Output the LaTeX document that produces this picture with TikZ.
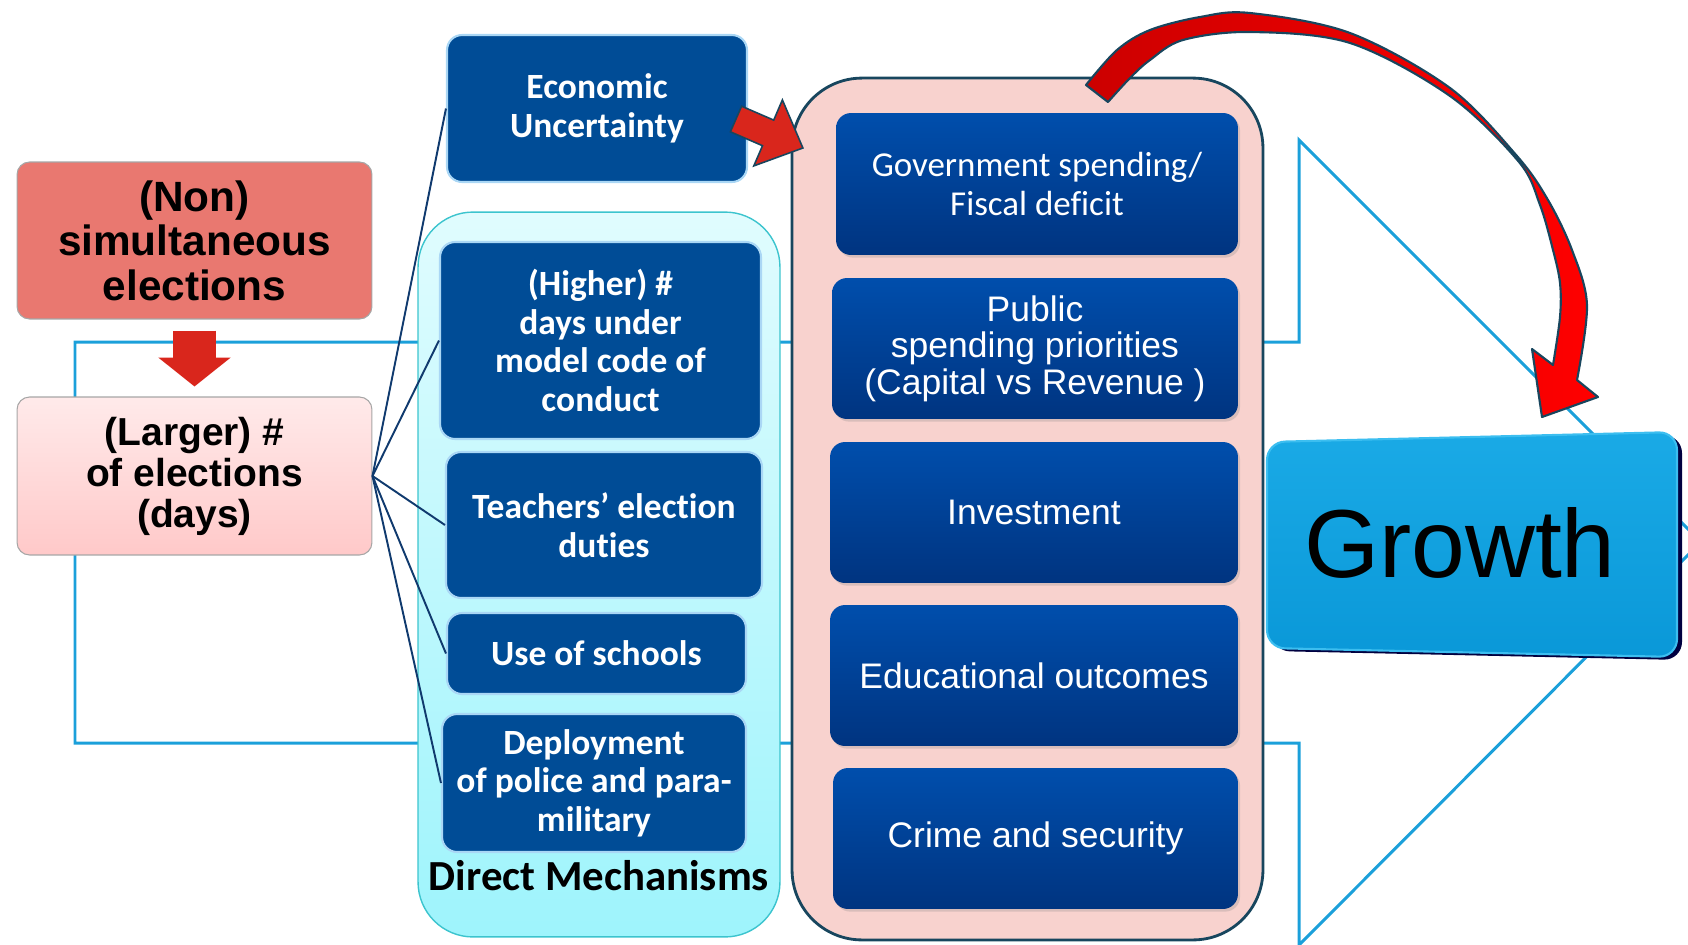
\documentclass[tikz,border=0pt]{standalone}
\usepackage{fontspec}
\setmainfont{Liberation Sans}
\newfontfamily\calibri[Ligatures=NoCommon]{Carlito}
\usetikzlibrary{arrows.meta,shadows}

\definecolor{nonred}{RGB}{233,120,112}
\definecolor{largetop}{RGB}{255,234,234}
\definecolor{largebot}{RGB}{255,201,201}
\definecolor{blockred}{RGB}{217,38,28}
\definecolor{mechblue}{RGB}{0,76,150}
\definecolor{mechedge}{RGB}{170,215,245}
\definecolor{cyantop}{RGB}{224,252,254}
\definecolor{cyanbot}{RGB}{158,244,252}
\definecolor{cyanedge}{RGB}{60,196,206}
\definecolor{chanpink}{RGB}{248,210,206}
\definecolor{darkedge}{RGB}{24,70,94}
\definecolor{chantop}{RGB}{0,78,172}
\definecolor{chanbot}{RGB}{0,52,128}
\definecolor{growthtop}{RGB}{26,170,230}
\definecolor{growthbot}{RGB}{10,152,216}
\definecolor{growthedge}{RGB}{60,190,240}
\definecolor{outlineblue}{RGB}{27,160,218}
\definecolor{linkblue}{RGB}{16,58,110}

\begin{document}
\begin{tikzpicture}[x=0.02cm, y=-0.02cm,
    every node/.style={inner sep=0pt, align=center},
    elect/.style={rectangle, rounded corners=0.25cm, draw=black!35, line width=0.6pt, minimum width=7.1cm},
    mech/.style={rectangle, rounded corners=0.3cm, fill=mechblue, draw=mechedge, line width=1.2pt,
        text=white, font=\calibri\bfseries\fontsize{20.2}{21.9}\selectfont},
    chan/.style={rectangle, rounded corners=0.3cm, top color=chantop, bottom color=chanbot,
        text=white, font=\fontsize{20.2}{20.8}\selectfont,
        drop shadow={opacity=0.25, shadow xshift=1.2pt, shadow yshift=-1.5pt}},
    link/.style={draw=linkblue, line width=1.1pt}]
    \useasboundingbox (0,0) rectangle (1688,944);
    \clip (0,0) rectangle (1688,944);

    % Big arrow behind everything
    \draw[outlineblue, line width=1.7pt] (75,342) -- (1299,342) -- (1299,140) -- (1701,542)
        -- (1299,945) -- (1299,743) -- (75,743) -- cycle;

    % Containers
    \node[rectangle, rounded corners=1.1cm, top color=cyantop, bottom color=cyanbot, draw=cyanedge,
        line width=0.8pt, minimum width=7.24cm, minimum height=14.5cm] (direct) at (599,574.5) {};
    \node[rectangle, rounded corners=1.4cm, fill=chanpink, draw=darkedge, line width=1.6pt,
        minimum width=9.42cm, minimum height=17.24cm] (channels) at (1027.5,509) {};
    \node[font=\calibri\bfseries\fontsize{24.4}{25}\selectfont, anchor=base] (dlabel) at (599,890) {Direct Mechanisms};

    % Elections
    \node[elect, fill=nonred, minimum height=3.14cm, font=\bfseries\fontsize{24.1}{25.3}\selectfont]
        (nonsim) at (194.5,240.5) {(Non)\\simultaneous\\elections};
    \node[elect, top color=largetop, bottom color=largebot, minimum height=3.16cm,
        font=\bfseries\fontsize{22.2}{23.3}\selectfont] (larger) at (194.5,476) {(Larger) \#\\of elections\\(days)};
    \draw[blockred, line width=0.86cm, -{Triangle[width=1.42cm, length=0.58cm]},
        shorten <=0.22cm, shorten >=0.2cm] (nonsim.south) -- (larger.north);

    % Mechanisms
    \node[mech, minimum width=6cm, minimum height=2.94cm] (econ) at (597,108.5) {Economic\\Uncertainty};
    \node[mech, minimum width=6.42cm, minimum height=3.94cm] (higher) at (600.5,340.5)
        {(Higher) \#\\days under\\model code of\\conduct};
    \node[mech, minimum width=6.32cm, minimum height=2.92cm] (teachers) at (604,525) {Teachers’ election\\duties};
    \node[mech, minimum width=5.98cm, minimum height=1.62cm] (schools) at (596.5,653.5) {Use of schools};
    \node[mech, minimum width=6.08cm, minimum height=2.76cm] (police) at (594,783)
        {Deployment\\of police and para-\\military};

    % Links
    \draw[link] (larger.east) -- (econ.west);
    \draw[link] (larger.east) -- (higher.west);
    \draw[link] (larger.east) -- (teachers.west);
    \draw[link] (larger.east) -- (schools.west);
    \draw[link] (larger.east) -- (police.west);

    % Channels
    \node[chan, minimum width=8.04cm, minimum height=2.84cm, font=\calibri\fontsize{19.9}{21.9}\selectfont]
        (gov) at (1037,184) {Government spending/\\Fiscal deficit};
    \node[chan, minimum width=8.12cm, minimum height=2.82cm] (public) at (1035,348.5)
        {Public\\spending priorities\\(Capital vs Revenue )};
    \node[chan, minimum width=8.16cm, minimum height=2.82cm] (invest) at (1034,512.5) {Investment};
    \node[chan, minimum width=8.16cm, minimum height=2.82cm] (edu) at (1034,675.5) {Educational outcomes};
    \node[chan, minimum width=8.1cm, minimum height=2.82cm] (crime) at (1035.5,838.5) {Crime and security};

    % Uncertainty into the channels
    \filldraw[fill=blockred, draw=darkedge, line width=0.9pt, line join=miter]
        (730.4,131.8) -- (762.5,145.7) -- (753.8,165.9) -- (802.9,148) -- (782.4,99.9)
        -- (773.7,120.1) -- (741.6,106.2) -- cycle;

    % Growth
    \fill[black!75!blue, rounded corners=0.36cm] (1272,445) -- (1682,435) -- (1682,660) -- (1272,651) -- cycle;
    \shadedraw[top color=growthtop, bottom color=growthbot, draw=growthedge, line width=1.2pt,
        rounded corners=0.36cm] (1267,442) -- (1677,432) -- (1677,657) -- (1267,648) -- cycle;
    \node[font=\fontsize{55}{60}\selectfont] (growth) at (1460,543) {Growth};

    % Feedback arrow over the top
    \shadedraw[left color=red!80!black, right color=red, draw=darkedge, line width=1.2pt, line join=round]
        (1086,85) -- plot[smooth, tension=0.55] coordinates {(1086,85) (1117,50) (1150,30) (1200,17) (1250,13)
            (1350,33) (1450,88) (1517,156) (1548,200) (1572,250) (1587,305) (1577,380)}
        -- (1598,397) -- (1542,417) -- (1532,349)
        -- plot[smooth, tension=0.55] coordinates {(1553,365) (1560,317) (1560,283) (1553,250) (1540,205)
            (1519,162) (1450,96) (1350,43) (1250,32) (1183,40) (1150,60) (1130,78) (1108,102)}
        -- cycle;
\end{tikzpicture}
\end{document}
